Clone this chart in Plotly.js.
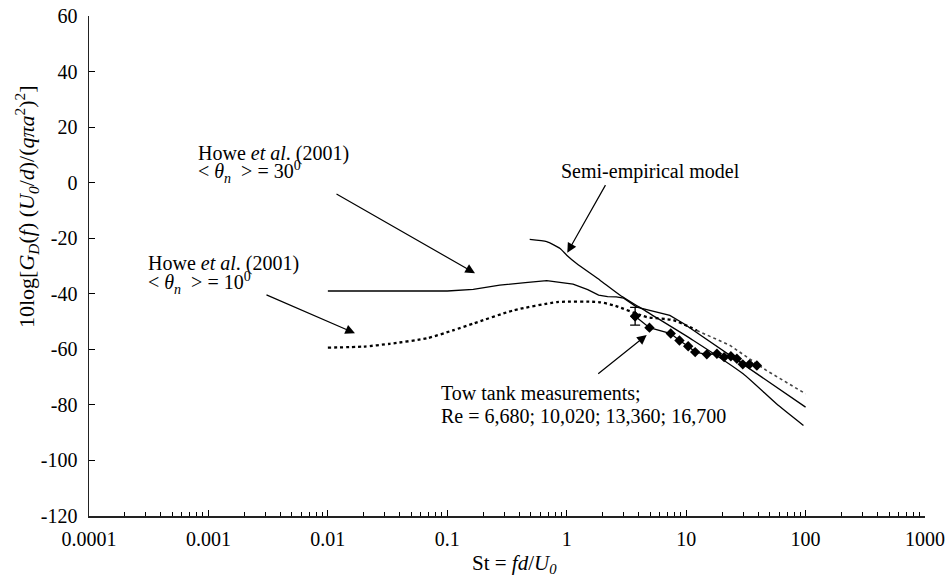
<!DOCTYPE html>
<html>
<head>
<meta charset="utf-8">
<script src="https://cdn.plot.ly/plotly-3.0.1.min.js"></script>
<style>html,body{margin:0;padding:0;background:#fff;}#chart{width:948px;height:579px;}</style>
</head>
<body>
<div id="chart"></div>
<script>
// ---- data ----
var howe30St    = [0.01, 0.03, 0.1, 0.165, 0.275, 0.45, 0.68, 1.13, 1.5, 1.85, 2.2, 2.6, 3.0, 3.86, 4.7, 6.0, 7.3, 9.5, 20, 50, 100];
var howe30Level = [-39, -39, -39, -38.4, -36.9, -36.0, -35.3, -36.5, -38.5, -40.5, -41.0, -41.1, -41.6, -44.8, -45.8, -46.8, -47.8, -50.7, -60.2, -71.9, -80.8];

var howe10St    = [0.01, 0.02, 0.033, 0.068, 0.111, 0.166, 0.357, 0.83, 1.85, 2.45, 4.7, 7.8, 12.3];
var howe10Level = [-59.4, -59.0, -58.0, -56.0, -53.2, -50.7, -46.0, -43.0, -43.0, -44.1, -48.4, -49.5, -53.2];
var howe10TailSt    = [12.3, 23.3, 47, 100];
var howe10TailLevel = [-53.2, -58.6, -67.6, -76.0];

var semiSt    = [0.49, 0.68, 0.88, 1.0, 1.21, 1.9, 2.8, 4.7, 11.5, 30, 57, 96];
var semiLevel = [-20.4, -21.2, -23.7, -26.1, -29.1, -35.1, -40.5, -46.5, -56.8, -68.8, -79.6, -87.4];

var towSt    = [3.74, 4.93, 7.43, 8.79, 10.4, 11.9, 14.9, 18.1, 20.8, 23.7, 26.6, 29.8, 33.9, 39.1];
var towLevel = [-48.1, -52.2, -54.3, -56.8, -58.9, -61.0, -61.8, -61.6, -62.8, -62.5, -63.4, -65.4, -65.4, -65.8];
var towErr   = 3.2;

var xTickVals = [0.0001, 0.001, 0.01, 0.1, 1, 10, 100, 1000];
var xTickText = ["0.0001", "0.001", "0.01", "0.1", "1", "10", "100", "1000"];
var yTickVals = [60, 40, 20, 0, -20, -40, -60, -80, -100, -120];
var yTickText = ["60", "40", "20", "0", "-20", "-40", "-60", "-80", "-100", "-120"];

// ---- minor log ticks (axis decoration) ----
var minorVals = [];
for (var e = -4; e < 3; e++) {
  for (var m = 2; m <= 9; m++) minorVals.push(m * Math.pow(10, e));
}

var FONT = "'Liberation Serif', 'Times New Roman', serif";
var L = 89, R = 925, T = 16, B = 516;
function px(x) { return (x - L) / (R - L); }
function py(y) { return (B - y) / (B - T); }

var traces = [
  {x: howe30St, y: howe30Level, mode: "lines", line: {color: "#000", width: 1.3}, hoverinfo: "skip"},
  {x: semiSt, y: semiLevel, mode: "lines", line: {color: "#000", width: 1.3, shape: "spline", smoothing: 0.5}, hoverinfo: "skip"},
  {x: howe10St, y: howe10Level, mode: "lines", line: {color: "#000", width: 2.3, dash: "dot", shape: "spline", smoothing: 0.6}, hoverinfo: "skip"},
  {x: howe10TailSt, y: howe10TailLevel, mode: "lines", line: {color: "#444", width: 1.6, dash: "dot"}, hoverinfo: "skip"},
  {x: towSt, y: towLevel, mode: "lines+markers", line: {color: "#000", width: 1.3},
   marker: {symbol: "diamond", size: 8, color: "#000"}, hoverinfo: "skip"},
  {x: [towSt[0]], y: [towLevel[0]], mode: "markers", marker: {symbol: "diamond", size: 8, color: "#000"},
   error_y: {type: "constant", value: towErr, color: "#000", thickness: 1.3, width: 5}, hoverinfo: "skip"}
];

function txt(text, xp, yp) {
  return {xref: "paper", yref: "paper", x: px(xp), y: py(yp), xanchor: "left", yanchor: "middle",
          text: text, showarrow: false, font: {family: FONT, size: 20, color: "#000"}};
}
function arrow(hx, hy, ax, ay) {
  return {xref: "x", yref: "y", x: hx, y: hy, ax: ax, ay: ay, axref: "pixel", ayref: "pixel",
          text: "", showarrow: true, arrowhead: 2, arrowsize: 1.6, arrowwidth: 1.2, arrowcolor: "#000", standoff: 0};
}

var annotations = [
  txt("Howe <i>et al</i>. (2001)", 196, 153),
  txt("< <i>θ<sub>n</sub></i>\u00a0\u00a0> = 30<sup>0</sup>", 196, 172),
  txt("Howe <i>et al</i>. (2001)", 146, 263),
  txt("< <i>θ<sub>n</sub></i>\u00a0\u00a0> = 10<sup>0</sup>", 146, 283),
  txt("Semi-empirical model", 559, 171),
  txt("Tow tank measurements;", 439, 393),
  txt("Re = 6,680; 10,020; 13,360; 16,700", 439, 416),
  arrow(-0.768, -32.6, -140, -80),
  arrow(-1.773, -54.2, -90, -39),
  arrow(0.005, -25.2, 39, -69),
  arrow(0.670, -54.8, -50, 40),
  {xref: "paper", yref: "paper", x: px(514), y: py(564), xanchor: "center", yanchor: "middle",
   text: "St = <i>fd</i>/<i>U<sub>0</sub></i>", showarrow: false, font: {family: FONT, size: 21, color: "#000"}},
  {xref: "paper", yref: "paper", x: px(26), y: py(207), xanchor: "center", yanchor: "middle", textangle: -90,
   text: "10log[<i>G<sub>D</sub></i>(<i>f</i>) (<i>U<sub>0</sub></i>/<i>d</i>)/(<i>qπa</i><sup>2</sup>)<sup>2</sup>]",
   showarrow: false, font: {family: FONT, size: 22, color: "#000"}}
];

var layout = {
  width: 948, height: 579,
  margin: {l: L, r: 948 - R, t: T, b: 579 - B, pad: 0},
  paper_bgcolor: "#fff", plot_bgcolor: "#fff",
  showlegend: false,
  font: {family: FONT, size: 20, color: "#000"},
  xaxis: {
    type: "log", range: [-4, 3], tickmode: "array", tickvals: xTickVals, ticktext: xTickText,
    ticks: "inside", ticklen: 6, tickwidth: 1, tickcolor: "#000",
    minor: {tickmode: "array", tickvals: minorVals, ticks: "inside", ticklen: 4, tickwidth: 1, tickcolor: "#000", showgrid: false},
    showline: true, linecolor: "#222", linewidth: 1.5, showgrid: false, zeroline: false,
    tickfont: {family: FONT, size: 20, color: "#000"}, ticklabelstandoff: 4
  },
  yaxis: {
    range: [-120, 60], tickmode: "array", tickvals: yTickVals, ticktext: yTickText,
    ticks: "inside", ticklen: 6, tickwidth: 1, tickcolor: "#000",
    showline: true, linecolor: "#222", linewidth: 1.5, showgrid: false, zeroline: false,
    tickfont: {family: FONT, size: 20, color: "#000"}, ticklabelstandoff: 6
  },
  annotations: annotations
};

Plotly.newPlot("chart", traces, layout, {staticPlot: true, displayModeBar: false});
</script>
</body>
</html>
